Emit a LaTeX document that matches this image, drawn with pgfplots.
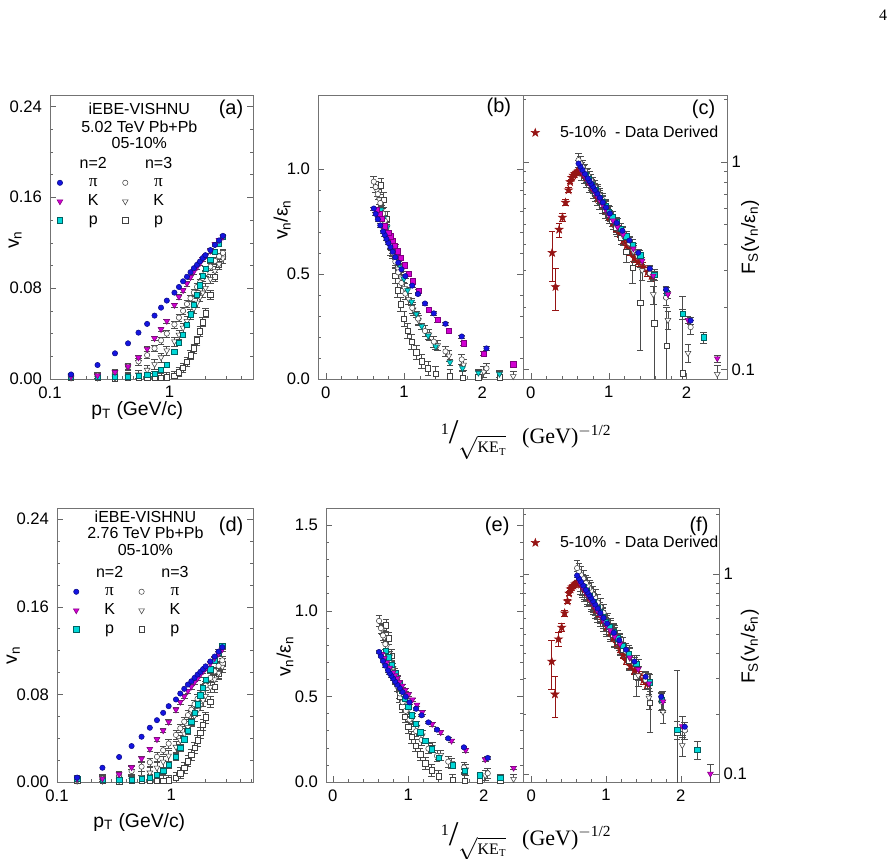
\documentclass[border=0pt]{standalone}
\usepackage{fontspec}
\setmainfont{Liberation Sans}
\newfontfamily\timesf{Liberation Serif}
\usepackage{pgfplots}
\usepackage{pgfplotstable}
\pgfplotsset{compat=1.18}

\definecolor{cpi}{RGB}{20,20,225}
\definecolor{cK}{RGB}{210,0,210}
\definecolor{cp}{RGB}{0,215,215}
\definecolor{cstar}{RGB}{150,20,20}

\pgfdeclareplotmark{fstar}{%
 \pgfpathmoveto{\pgfpoint{0pt}{\pgfplotmarksize}}%
 \pgfpathlineto{\pgfpoint{-0.235\pgfplotmarksize}{0.324\pgfplotmarksize}}%
 \pgfpathlineto{\pgfpoint{-0.951\pgfplotmarksize}{0.309\pgfplotmarksize}}%
 \pgfpathlineto{\pgfpoint{-0.380\pgfplotmarksize}{-0.124\pgfplotmarksize}}%
 \pgfpathlineto{\pgfpoint{-0.588\pgfplotmarksize}{-0.809\pgfplotmarksize}}%
 \pgfpathlineto{\pgfpoint{0pt}{-0.4\pgfplotmarksize}}%
 \pgfpathlineto{\pgfpoint{0.588\pgfplotmarksize}{-0.809\pgfplotmarksize}}%
 \pgfpathlineto{\pgfpoint{0.380\pgfplotmarksize}{-0.124\pgfplotmarksize}}%
 \pgfpathlineto{\pgfpoint{0.951\pgfplotmarksize}{0.309\pgfplotmarksize}}%
 \pgfpathlineto{\pgfpoint{0.235\pgfplotmarksize}{0.324\pgfplotmarksize}}%
 \pgfpathclose
 \pgfusepathqfillstroke
}

\tikzset{
 S2pi/.style={mark=*, mark size=2pt, mark options={draw=cpi!60!black, fill=cpi}},
 S2K/.style={mark=triangle*, mark size=2.5pt, mark options={rotate=180, draw=cK!60!black, fill=cK}},
 S2Ksq/.style={mark=square*, mark size=2pt, mark options={draw=cK!60!black, fill=cK}},
 S2p/.style={mark=square*, mark size=2pt, mark options={draw=cp!45!black, fill=cp}},
 S2ptri/.style={mark=triangle*, mark size=2.5pt, mark options={rotate=180, draw=cp!45!black, fill=cp}},
 S3pi/.style={mark=*, mark size=2pt, mark options={draw=black!75, fill=white}},
 S3K/.style={mark=triangle*, mark size=2.5pt, mark options={rotate=180, draw=black!75, fill=white}},
 S3p/.style={mark=square*, mark size=2pt, mark options={draw=black!75, fill=white}},
 Sstar/.style={mark=fstar, mark size=3.2pt, mark options={draw=cstar, fill=cstar}},
 lfont/.style={font=\fontsize{14.5}{17}\selectfont},
}

\pgfplotsset{
 legend image code/.code={\path[draw=none,fill=none] (-3pt,-3pt) rectangle (3pt,3pt);\draw[#1] plot coordinates {(0pt,0pt)};},
 base/.style={scale only axis, anchor=south west, axis line style={black!55},
  tick style={black!60}, major tick length=4.5pt, minor tick length=2.5pt,
  xtick pos=bottom, ytick pos=both,
  tick label style={font=\fontsize{12.5}{15}\selectfont},
  xticklabel style={yshift=-2pt},
  error bars/error bar style={black!70, line width=0.5pt},
  error bars/error mark options={rotate=90, black!70, mark size=2.5pt}},
 lefty/.style={yticklabel style={xshift=-2.5pt}},
 legA/.style={legend columns=2, legend cell align=left,
  legend style={draw=none, fill=none, inner sep=0pt, anchor=north west,
   font=\fontsize{12}{14}\selectfont,
   nodes={inner sep=1pt, text height=8.5pt, text depth=2.5pt}, row sep=1pt,
   /tikz/every even column/.append style={column sep=16pt}}},
 legC/.style={legend style={draw=none, fill=none, inner sep=0pt, anchor=west,
   font=\fontsize{12}{14}\selectfont, nodes={inner sep=1pt}}},
 scal/.style={xmin=-0.1, xmax=2.52, restrict x to domain=-0.1:2.52,
  xtick={0,1,2}, xticklabels={0,1,2}, minor x tick num=4},
}

% ---------- 5.02 TeV ----------
\pgfplotstableread{
pT v2pi v2K v2p v3pi v3K v3p
0.15 0.0040 0.0020 0.0025 0.0010 0.0010 0.0010
0.25 0.0123 0.0030 0.0020 0.0030 0.0010 0.0010
0.35 0.0226 0.0060 0.0020 0.0060 0.0010 0.0005
0.45 0.0314 0.0109 0.0020 0.0110 0.0015 0.0010
0.55 0.0408 0.0188 0.0030 0.0155 0.0040 0.0010
0.65 0.0485 0.0264 0.0037 0.0210 0.0080 0.0010
0.75 0.0558 0.0358 0.0045 0.0270 0.0130 0.0010
0.85 0.0628 0.0438 0.0079 0.0340 0.0190 0.0008
0.95 0.0690 0.0510 0.0123 0.0400 0.0250 0.0015
1.1 0.0760 0.0650 0.0240 0.0480 0.0330 0.0030
1.2 0.0810 0.0723 0.0320 0.0540 0.0390 0.0060
1.3 0.0860 0.0780 0.0390 0.0600 0.0450 0.0100
1.4 0.0900 0.0840 0.0480 0.0660 0.0510 0.0150
1.5 0.0940 0.0895 0.0570 0.0710 0.0570 0.0210
1.6 0.0975 0.0945 0.0655 0.0760 0.0620 0.0270
1.7 0.1005 0.0985 0.0740 0.0810 0.0670 0.0340
1.8 0.1035 0.1020 0.0825 0.0850 0.0720 0.0420
1.9 0.1065 0.1055 0.0910 0.0890 0.0760 0.0500
2.0 0.1090 0.1080 0.0970 0.0930 0.0800 0.0580
2.2 0.1135 0.1128 0.1050 0.0990 0.0880 0.0740
2.4 0.1180 0.1185 0.1120 0.1040 0.0950 0.0900
2.6 0.1220 0.1222 0.1190 0.1080 0.1010 0.1010
2.8 0.1260 0.1250 0.1250 0.1110 0.1060 0.1090
}\tAa

\pgfplotstableread{
pT xpi xK xp b2pi b2K b2p b3pi b3K b3p
0.15 3.91 6.70 9.20 0.026 0.013 0.016 0.008 0.008 0.008
0.25 2.61 4.09 5.53 0.079 0.019 0.013 0.025 0.008 0.008
0.35 2.053 2.996 3.98 0.1458 0.0387 0.013 0.0508 0.008 0.004
0.45 1.737 2.395 3.13 0.2026 0.0703 0.013 0.0932 0.0127 0.008
0.55 1.529 2.019 2.588 0.2632 0.1213 0.019 0.1314 0.0339 0.008
0.65 1.380 1.761 2.219 0.3129 0.1703 0.0239 0.1780 0.0678 0.0085
0.75 1.267 1.573 1.950 0.3600 0.2310 0.0290 0.2288 0.1102 0.0085
0.85 1.177 1.430 1.747 0.4052 0.2826 0.0510 0.2881 0.1610 0.0068
0.95 1.104 1.317 1.587 0.4452 0.3290 0.0794 0.3390 0.2119 0.0127
1.1 1.016 1.185 1.404 0.4903 0.4194 0.1548 0.4068 0.2797 0.0254
1.2 0.967 1.115 1.307 0.5226 0.4665 0.2065 0.4576 0.3305 0.0508
1.3 0.925 1.056 1.226 0.5548 0.5032 0.2516 0.5085 0.3814 0.0847
1.4 0.888 1.005 1.157 0.5806 0.5419 0.3097 0.5593 0.4322 0.1271
1.5 0.855 0.960 1.097 0.6065 0.5774 0.3677 0.6017 0.4831 0.1780
1.6 0.826 0.920 1.045 0.6290 0.6097 0.4226 0.6441 0.5254 0.2288
1.7 0.799 0.885 0.998 0.6484 0.6355 0.4774 0.6864 0.5678 0.2881
1.8 0.775 0.853 0.957 0.6677 0.6581 0.5323 0.7203 0.6102 0.3559
1.9 0.753 0.825 0.920 0.6871 0.6806 0.5871 0.7542 0.6441 0.4237
2.0 0.732 0.799 0.887 0.7032 0.6968 0.6258 0.7881 0.6780 0.4915
2.2 0.696 0.754 0.829 0.7323 0.7277 0.6774 0.8390 0.7458 0.6271
2.4 0.665 0.715 0.781 0.7613 0.7645 0.7226 0.8814 0.8051 0.7627
2.6 0.637 0.682 0.740 0.7871 0.7884 0.7677 0.9153 0.8559 0.8559
2.8 0.613 0.652 0.705 0.8129 0.8065 0.8065 0.9407 0.8983 0.9237
}\tBa

\pgfplotstableread{
pT xpi xK xp c2pi c2K c2p c3pi c3K c3p c3pP c3pM
0.15 3.91 6.70 9.20 nan nan nan nan nan nan 0 0
0.25 2.61 4.09 5.53 nan nan nan nan nan nan 0 0
0.35 2.053 2.996 3.98 0.172 nan nan 0.160 nan nan 0 0
0.45 1.737 2.395 3.13 0.243 0.113 nan 0.222 0.095 nan 0 0
0.55 1.529 2.019 2.588 0.306 0.173 nan 0.290 0.120 nan 0 0
0.65 1.380 1.761 2.219 0.365 0.230 0.143 0.350 0.173 nan 0 0
0.75 1.267 1.573 1.950 0.418 0.283 0.185 0.405 0.230 0.096 0.13 0.085
0.85 1.177 1.430 1.747 0.466 0.334 0.235 0.455 0.300 0.130 0.07 0.05
0.95 1.104 1.317 1.587 0.508 0.382 0.287 0.500 0.370 0.167 0.13 0.158
1.1 1.016 1.185 1.404 0.565 0.447 0.355 0.565 0.440 0.210 0.10 0.086
1.2 0.967 1.115 1.307 0.603 0.486 0.398 0.615 0.485 0.310 0.05 0.05
1.3 0.925 1.056 1.226 0.638 0.522 0.438 0.655 0.525 0.370 0.04 0.04
1.4 0.888 1.005 1.157 0.672 0.555 0.477 0.690 0.560 0.430 0.03 0.03
1.5 0.855 0.960 1.097 0.703 0.590 0.513 0.725 0.595 0.480 0.03 0.03
1.6 0.826 0.920 1.045 0.732 0.624 0.546 0.755 0.630 0.520 0.03 0.03
1.7 0.799 0.885 0.998 0.760 0.655 0.577 0.785 0.660 0.555 0.03 0.03
1.8 0.775 0.853 0.957 0.785 0.684 0.611 0.810 0.690 0.590 0.03 0.03
1.9 0.753 0.825 0.920 0.809 0.711 0.643 0.835 0.720 0.625 0.03 0.03
2.0 0.732 0.799 0.887 0.833 0.737 0.673 0.860 0.745 0.655 0.03 0.03
2.2 0.696 0.754 0.829 0.875 0.785 0.729 0.905 0.790 0.710 0.03 0.03
2.4 0.665 0.715 0.781 0.914 0.827 0.778 0.945 0.835 0.760 0.03 0.03
2.6 0.637 0.682 0.740 0.950 0.866 0.824 0.985 0.875 0.810 0.03 0.03
2.8 0.613 0.652 0.705 0.982 0.903 0.865 1.020 0.910 0.850 0.03 0.03
}\tCa

% ---------- 2.76 TeV ----------
\pgfplotstableread{
pT v2pi v2K v2p v3pi v3K v3p
0.15 0.0040 0.0030 0.0030 0.0020 0.0010 0.0010
0.25 0.0130 0.0030 0.0020 0.0030 0.0010 0.0010
0.35 0.0228 0.0070 0.0020 0.0060 0.0015 0.0005
0.45 0.0328 0.0133 0.0020 0.0100 0.0020 0.0010
0.55 0.0413 0.0213 0.0030 0.0140 0.0045 0.0010
0.65 0.0495 0.0301 0.0037 0.0180 0.0085 0.0010
0.75 0.0564 0.0389 0.0063 0.0230 0.0130 0.0010
0.85 0.0631 0.0470 0.0104 0.0290 0.0185 0.0010
0.95 0.0692 0.0548 0.0159 0.0350 0.0240 0.0015
1.1 0.0753 0.0660 0.0232 0.0430 0.0320 0.0040
1.2 0.0807 0.0730 0.0310 0.0490 0.0380 0.0080
1.3 0.0850 0.0780 0.0390 0.0550 0.0440 0.0130
1.4 0.0889 0.0830 0.0470 0.0610 0.0500 0.0190
1.5 0.0919 0.0870 0.0550 0.0660 0.0555 0.0250
1.6 0.0950 0.0910 0.0630 0.0710 0.0605 0.0310
1.7 0.0980 0.0945 0.0710 0.0760 0.0655 0.0380
1.8 0.1005 0.0980 0.0790 0.0800 0.0700 0.0450
1.9 0.1030 0.1010 0.0860 0.0840 0.0745 0.0520
2.0 0.1055 0.1035 0.0930 0.0880 0.0785 0.0590
2.2 0.1100 0.1080 0.1030 0.0950 0.0865 0.0730
2.4 0.1145 0.1130 0.1110 0.1010 0.0935 0.0870
2.6 0.1190 0.1170 0.1180 0.1060 0.0995 0.0990
2.8 0.1230 0.1210 0.1240 0.1110 0.1050 0.1080
}\tAb

\pgfplotstableread{
pT xpi xK xp e2pi e2K e2p e3pi e3K e3p
0.15 3.91 6.70 9.20 0.025 0.019 0.019 0.017 0.008 0.008
0.25 2.61 4.09 5.53 0.080 0.019 0.012 0.025 0.008 0.008
0.35 2.053 2.996 3.98 0.1407 0.0432 0.012 0.0508 0.0127 0.004
0.45 1.737 2.395 3.13 0.2025 0.0821 0.012 0.0847 0.0169 0.008
0.55 1.529 2.019 2.588 0.2549 0.1315 0.019 0.1186 0.0381 0.008
0.65 1.380 1.761 2.219 0.3056 0.1858 0.0228 0.1525 0.0720 0.0085
0.75 1.267 1.573 1.950 0.3481 0.2401 0.0389 0.1949 0.1102 0.0085
0.85 1.177 1.430 1.747 0.3895 0.2901 0.0642 0.2458 0.1568 0.0085
0.95 1.104 1.317 1.587 0.4272 0.3383 0.0981 0.2966 0.2034 0.0127
1.1 1.016 1.185 1.404 0.4648 0.4074 0.1432 0.3644 0.2712 0.0339
1.2 0.967 1.115 1.307 0.4981 0.4506 0.1914 0.4153 0.3220 0.0678
1.3 0.925 1.056 1.226 0.5247 0.4815 0.2407 0.4661 0.3729 0.1102
1.4 0.888 1.005 1.157 0.5488 0.5123 0.2901 0.5169 0.4237 0.1610
1.5 0.855 0.960 1.097 0.5673 0.5370 0.3395 0.5593 0.4703 0.2119
1.6 0.826 0.920 1.045 0.5864 0.5617 0.3889 0.6017 0.5127 0.2627
1.7 0.799 0.885 0.998 0.6049 0.5833 0.4383 0.6441 0.5551 0.3220
1.8 0.775 0.853 0.957 0.6204 0.6049 0.4877 0.6780 0.5932 0.3814
1.9 0.753 0.825 0.920 0.6358 0.6235 0.5309 0.7119 0.6314 0.4407
2.0 0.732 0.799 0.887 0.6512 0.6389 0.5741 0.7458 0.6653 0.5000
2.2 0.696 0.754 0.829 0.6790 0.6667 0.6358 0.8051 0.7331 0.6186
2.4 0.665 0.715 0.781 0.7068 0.6975 0.6852 0.8559 0.7924 0.7373
2.6 0.637 0.682 0.740 0.7346 0.7222 0.7284 0.8983 0.8432 0.8390
2.8 0.613 0.652 0.705 0.7593 0.7469 0.7654 0.9407 0.8898 0.9153
}\tBb

\pgfplotstableread{
pT xpi xK xp f2pi f2K f2p f3pi f3K f3p f3pP f3pM
0.15 3.91 6.70 9.20 nan nan nan nan nan nan 0 0
0.25 2.61 4.09 5.53 nan nan nan nan nan nan 0 0
0.35 2.053 2.996 3.98 0.172 nan nan 0.165 nan nan 0 0
0.45 1.737 2.395 3.13 0.243 0.100 nan 0.230 nan nan 0 0
0.55 1.529 2.019 2.588 0.306 0.173 nan 0.295 0.139 nan 0 0
0.65 1.380 1.761 2.219 0.365 0.230 0.132 0.355 0.204 nan 0 0
0.75 1.267 1.573 1.950 0.418 0.283 0.166 0.410 0.240 0.160 0.170 0.140
0.85 1.177 1.430 1.747 0.466 0.334 0.235 0.460 0.310 nan 0 0
0.95 1.104 1.317 1.587 0.508 0.382 0.287 0.510 0.380 0.226 0.065 0.065
1.1 1.016 1.185 1.404 0.565 0.447 0.355 0.580 0.450 0.305 0.060 0.060
1.2 0.967 1.115 1.307 0.603 0.486 0.398 0.640 0.495 0.370 0.040 0.040
1.3 0.925 1.056 1.226 0.638 0.522 0.438 0.685 0.535 0.420 0.035 0.035
1.4 0.888 1.005 1.157 0.672 0.555 0.477 0.720 0.570 0.460 0.035 0.035
1.5 0.855 0.960 1.097 0.703 0.590 0.513 0.760 0.610 0.500 0.035 0.035
1.6 0.826 0.920 1.045 0.732 0.624 0.546 0.790 0.645 0.535 0.035 0.035
1.7 0.799 0.885 0.998 0.760 0.655 0.577 0.825 0.675 0.570 0.035 0.035
1.8 0.775 0.853 0.957 0.785 0.684 0.611 0.850 0.705 0.605 0.035 0.035
1.9 0.753 0.825 0.920 0.809 0.711 0.643 0.875 0.735 0.640 0.035 0.035
2.0 0.732 0.799 0.887 0.833 0.737 0.673 0.900 0.760 0.670 0.035 0.035
2.2 0.696 0.754 0.829 0.875 0.785 0.729 0.950 0.805 0.725 0.035 0.035
2.4 0.665 0.715 0.781 0.914 0.827 0.778 0.990 0.850 0.780 0.035 0.035
2.6 0.637 0.682 0.740 0.950 0.866 0.824 1.030 0.890 0.830 0.035 0.035
2.8 0.613 0.652 0.705 0.982 0.903 0.865 1.070 0.930 0.875 0.035 0.035
}\tCb

% ---------- data-derived stars ----------
\pgfplotstableread{
x F e
0.274 0.365 0.100
0.317 0.250 0.057
0.364 0.472 0.037
0.407 0.540 0.025
0.446 0.637 0.020
0.485 0.731 0.020
0.505 0.800 0.015
0.525 0.840 0.015
0.545 0.860 0.015
0.565 0.875 0.015
0.585 0.890 0.015
0.605 0.900 0.015
0.625 0.905 0.015
0.645 0.900 0.015
0.665 0.885 0.015
0.690 0.865 0.015
0.715 0.840 0.015
0.745 0.810 0.015
0.780 0.765 0.015
0.820 0.720 0.015
0.865 0.665 0.015
0.910 0.630 0.015
0.960 0.585 0.015
1.015 0.543 0.015
1.060 0.510 0.015
1.100 0.478 0.015
1.145 0.450 0.015
1.190 0.420 0.015
1.230 0.395 0.015
1.270 0.369 0.015
1.330 0.345 0.015
1.380 0.330 0.015
1.440 0.312 0.015
1.500 0.295 0.015
1.550 0.282 0.015
}\tStar

\newcommand{\kelabel}{\raisebox{7pt}{\fontsize{12}{14}\selectfont 1}{\fontsize{26}{26}\selectfont /}\raisebox{-7pt}{$\sqrt{\hbox{\timesf\fontsize{12}{14}\selectfont KE\textsubscript{T}}}$}\hspace{12pt}(GeV)\textsuperscript{$-$1/2}}
\newcommand{\lt}[1]{\hspace*{17pt}\makebox[8pt]{#1}}
\newcommand{\pig}{{\timesf\fontsize{13}{14}\selectfont π}}

\begin{document}
\begin{tikzpicture}
\path[use as bounding box] (0,0) rectangle (671.25pt,644.25pt);

% ================= (a) =================
\begin{axis}[base, lefty, at={(37.5pt,360pt)}, width=152.25pt, height=213pt,
 xmode=log, xmin=0.1, xmax=5, ymin=0, ymax=0.25,
 xtick={0.1,1}, xticklabels={0.1,1}, minor xtick={0.2,0.3,0.4,0.5,0.6,0.7,0.8,0.9,2,3,4},
 ytick={0,0.08,0.16,0.24}, yticklabels={0.00,0.08,0.16,0.24},
 minor ytick={0.02,0.04,0.06,0.1,0.12,0.14,0.18,0.2,0.22},
 xlabel={p\textsubscript{T} (GeV/c)}, ylabel={v\textsubscript{n}},
 every axis x label/.style={at={(rel axis cs:0.43,-0.112)},anchor=center,lfont},
 every axis y label/.style={at={(rel axis cs:-0.172,0.49)},rotate=90,anchor=center,lfont},
 legA, legend style={at={(0.028,0.788)}}]
\addplot[only marks,S3p,forget plot,error bars/.cd,y dir=both,y fixed=0.004] table[x=pT,y=v3p]{\tAa};
\addplot[only marks,S3K,forget plot,error bars/.cd,y dir=both,y fixed=0.004] table[x=pT,y=v3K]{\tAa};
\addplot[only marks,S3pi,forget plot,error bars/.cd,y dir=both,y fixed=0.003] table[x=pT,y=v3pi]{\tAa};
\addplot[only marks,S2p,forget plot,error bars/.cd,y dir=both,y fixed=0.002] table[x=pT,y=v2p]{\tAa};
\addplot[only marks,S2K,forget plot,error bars/.cd,y dir=both,y fixed=0.002] table[x=pT,y=v2K]{\tAa};
\addplot[only marks,S2pi,forget plot] table[x=pT,y=v2pi]{\tAa};
\node[font=\fontsize{12}{14}\selectfont,anchor=base] at (rel axis cs:0.44,0.930) {iEBE-VISHNU};
\node[font=\fontsize{12}{14}\selectfont,anchor=base] at (rel axis cs:0.44,0.867) {5.02 TeV Pb+Pb};
\node[font=\fontsize{12}{14}\selectfont,anchor=base] at (rel axis cs:0.44,0.812) {05-10\%};
\node[font=\fontsize{15}{17}\selectfont,anchor=base east] at (rel axis cs:0.975,0.93) {(a)};
\addlegendimage{draw=none}\addlegendentry{\lt{n=2}}
\addlegendimage{draw=none}\addlegendentry{\lt{n=3}}
\addlegendimage{S2pi}\addlegendentry{\lt{\pig}}
\addlegendimage{S3pi}\addlegendentry{\lt{\pig}}
\addlegendimage{S2K}\addlegendentry{\lt{K}}
\addlegendimage{S3K}\addlegendentry{\lt{K}}
\addlegendimage{S2p}\addlegendentry{\lt{p}}
\addlegendimage{S3p}\addlegendentry{\lt{p}}
\end{axis}

% ================= (b) =================
\begin{axis}[base, lefty, scal, at={(238.5pt,360pt)}, width=153.75pt, height=213pt,
 ymin=0, ymax=1.354, ytick={0,0.5,1}, yticklabels={0.0,0.5,1.0}, minor y tick num=4,
 ylabel={v\textsubscript{n}/ε\textsubscript{n}},
 every axis y label/.style={at={(rel axis cs:-0.175,0.56)},rotate=90,anchor=center,lfont}]
\addplot[only marks,S3p,error bars/.cd,y dir=both,y fixed=0.035] table[x=xp,y=b3p]{\tBa};
\addplot[only marks,S3K,error bars/.cd,y dir=both,y fixed=0.025] table[x=xK,y=b3K]{\tBa};
\addplot[only marks,S3pi,error bars/.cd,y dir=both,y fixed=0.025] table[x=xpi,y=b3pi]{\tBa};
\addplot[only marks,S2ptri,error bars/.cd,y dir=both,y fixed=0.015] table[x=xp,y=b2p]{\tBa};
\addplot[only marks,S2Ksq,error bars/.cd,y dir=both,y fixed=0.01] table[x=xK,y=b2K]{\tBa};
\addplot[only marks,S2pi,error bars/.cd,y dir=both,y fixed=0.008] table[x=xpi,y=b2pi]{\tBa};
\node[font=\fontsize{15}{17}\selectfont,anchor=base east] at (rel axis cs:0.965,0.938) {(b)};
\end{axis}

% ================= (c) =================
\begin{axis}[base, scal, at={(392.25pt,360pt)}, width=153pt, height=213pt,
 ymode=log, ymin=0.09, ymax=2.1, ytick={0.1,1}, yticklabels={0.1,1},
 minor ytick={0.2,0.3,0.4,0.5,0.6,0.7,0.8,0.9,2},
 yticklabel pos=right,
 ylabel={F\textsubscript{S}(v\textsubscript{n}/ε\textsubscript{n})},
 every axis y label/.style={at={(rel axis cs:1.113,0.50)},rotate=90,anchor=center,lfont},
 legC, legend style={at={(0.039,0.867)}}]
\addplot[only marks,Sstar,forget plot,error bars/.cd,y dir=both,y explicit,error bar style={cstar},error mark options={rotate=90,cstar,mark size=2.5pt}] table[x=x,y=F,y error=e]{\tStar};
\addplot[only marks,S3p,forget plot,error bars/.cd,y dir=both,y explicit] table[x=xp,y=c3p,y error plus=c3pP,y error minus=c3pM]{\tCa};
\addplot[only marks,S3K,forget plot,error bars/.cd,y dir=both,y fixed relative=0.1] table[x=xK,y=c3K]{\tCa};
\addplot[only marks,S3pi,forget plot,error bars/.cd,y dir=both,y fixed relative=0.08] table[x=xpi,y=c3pi]{\tCa};
\addplot[only marks,S2p,forget plot,error bars/.cd,y dir=both,y fixed relative=0.06] table[x=xp,y=c2p]{\tCa};
\addplot[only marks,S2K,forget plot,error bars/.cd,y dir=both,y fixed relative=0.04] table[x=xK,y=c2K]{\tCa};
\addplot[only marks,S2pi,forget plot,error bars/.cd,y dir=both,y fixed relative=0.04] table[x=xpi,y=c2pi]{\tCa};
\node[font=\fontsize{15}{17}\selectfont,anchor=base east] at (rel axis cs:0.965,0.93) {(c)};
\addlegendimage{Sstar}\addlegendentry{\hspace*{14.5pt}5-10\%\ \ - Data Derived}
\end{axis}

% ================= (d) =================
\begin{axis}[base, lefty, at={(42.75pt,57.75pt)}, width=147pt, height=205.5pt,
 xmode=log, xmin=0.1, xmax=5.2, ymin=0, ymax=0.25,
 xtick={0.1,1}, xticklabels={0.1,1}, minor xtick={0.2,0.3,0.4,0.5,0.6,0.7,0.8,0.9,2,3,4,5},
 ytick={0,0.08,0.16,0.24}, yticklabels={0.00,0.08,0.16,0.24},
 minor ytick={0.02,0.04,0.06,0.1,0.12,0.14,0.18,0.2,0.22},
 xlabel={p\textsubscript{T} (GeV/c)}, ylabel={v\textsubscript{n}},
 every axis x label/.style={at={(rel axis cs:0.42,-0.146)},anchor=center,lfont},
 every axis y label/.style={at={(rel axis cs:-0.223,0.463)},rotate=90,anchor=center,lfont},
 legA, legend style={at={(0.0765,0.795)}}]
\addplot[only marks,S3p,forget plot,error bars/.cd,y dir=both,y fixed=0.005] table[x=pT,y=v3p]{\tAb};
\addplot[only marks,S3K,forget plot,error bars/.cd,y dir=both,y fixed=0.005] table[x=pT,y=v3K]{\tAb};
\addplot[only marks,S3pi,forget plot,error bars/.cd,y dir=both,y fixed=0.004] table[x=pT,y=v3pi]{\tAb};
\addplot[only marks,S2p,forget plot,error bars/.cd,y dir=both,y fixed=0.003] table[x=pT,y=v2p]{\tAb};
\addplot[only marks,S2K,forget plot,error bars/.cd,y dir=both,y fixed=0.002] table[x=pT,y=v2K]{\tAb};
\addplot[only marks,S2pi,forget plot] table[x=pT,y=v2pi]{\tAb};
\node[font=\fontsize{12}{14}\selectfont,anchor=base] at (rel axis cs:0.451,0.948) {iEBE-VISHNU};
\node[font=\fontsize{12}{14}\selectfont,anchor=base] at (rel axis cs:0.451,0.889) {2.76 TeV Pb+Pb};
\node[font=\fontsize{12}{14}\selectfont,anchor=base] at (rel axis cs:0.451,0.828) {05-10\%};
\node[font=\fontsize{15}{17}\selectfont,anchor=base east] at (rel axis cs:0.975,0.915) {(d)};
\addlegendimage{draw=none}\addlegendentry{\lt{n=2}}
\addlegendimage{draw=none}\addlegendentry{\lt{n=3}}
\addlegendimage{S2pi}\addlegendentry{\lt{\pig}}
\addlegendimage{S3pi}\addlegendentry{\lt{\pig}}
\addlegendimage{S2K}\addlegendentry{\lt{K}}
\addlegendimage{S3K}\addlegendentry{\lt{K}}
\addlegendimage{S2p}\addlegendentry{\lt{p}}
\addlegendimage{S3p}\addlegendentry{\lt{p}}
\end{axis}

% ================= (e) =================
\begin{axis}[base, lefty, scal, xmin=-0.09, at={(244.5pt,57.75pt)}, width=147.75pt, height=205.5pt,
 ymin=0, ymax=1.6, ytick={0,0.5,1,1.5}, yticklabels={0.0,0.5,1.0,1.5}, minor y tick num=4,
 ylabel={v\textsubscript{n}/ε\textsubscript{n}},
 every axis y label/.style={at={(rel axis cs:-0.208,0.457)},rotate=90,anchor=center,lfont}]
\addplot[only marks,S3p,error bars/.cd,y dir=both,y fixed=0.035] table[x=xp,y=e3p]{\tBb};
\addplot[only marks,S3K,error bars/.cd,y dir=both,y fixed=0.03] table[x=xK,y=e3K]{\tBb};
\addplot[only marks,S3pi,error bars/.cd,y dir=both,y fixed=0.03] table[x=xpi,y=e3pi]{\tBb};
\addplot[only marks,S2p,error bars/.cd,y dir=both,y fixed=0.012] table[x=xp,y=e2p]{\tBb};
\addplot[only marks,S2K,error bars/.cd,y dir=both,y fixed=0.01] table[x=xK,y=e2K]{\tBb};
\addplot[only marks,S2pi,error bars/.cd,y dir=both,y fixed=0.008] table[x=xpi,y=e2pi]{\tBb};
\node[font=\fontsize{15}{17}\selectfont,anchor=base east] at (rel axis cs:0.955,0.915) {(e)};
\end{axis}

% ================= (f) =================
\begin{axis}[base, scal, xmin=-0.11, xmax=2.51, at={(392.25pt,57.75pt)}, width=147pt, height=205.5pt,
 ymode=log, ymin=0.091, ymax=2.14, ytick={0.1,1}, yticklabels={0.1,1},
 minor ytick={0.2,0.3,0.4,0.5,0.6,0.7,0.8,0.9,2},
 yticklabel pos=right,
 ylabel={F\textsubscript{S}(v\textsubscript{n}/ε\textsubscript{n})},
 every axis y label/.style={at={(rel axis cs:1.158,0.494)},rotate=90,anchor=center,lfont},
 legC, legend style={at={(0.041,0.873)}}]
\addplot[only marks,Sstar,forget plot,error bars/.cd,y dir=both,y explicit,error bar style={cstar},error mark options={rotate=90,cstar,mark size=2.5pt}] table[x=x,y=F,y error=e]{\tStar};
\addplot[only marks,S3p,forget plot,error bars/.cd,y dir=both,y explicit] table[x=xp,y=f3p,y error plus=f3pP,y error minus=f3pM]{\tCb};
\addplot[only marks,S3K,forget plot,error bars/.cd,y dir=both,y fixed relative=0.12] table[x=xK,y=f3K]{\tCb};
\addplot[only marks,S3pi,forget plot,error bars/.cd,y dir=both,y fixed relative=0.1] table[x=xpi,y=f3pi]{\tCb};
\addplot[only marks,S2p,forget plot,error bars/.cd,y dir=both,y fixed relative=0.1] table[x=xp,y=f2p]{\tCb};
\addplot[only marks,S2K,forget plot,error bars/.cd,y dir=both,y fixed relative=0.12] table[x=xK,y=f2K]{\tCb};
\addplot[only marks,S2pi,forget plot,error bars/.cd,y dir=both,y fixed relative=0.05] table[x=xpi,y=f2pi]{\tCb};
\node[font=\fontsize{15}{17}\selectfont,anchor=base east] at (rel axis cs:0.97,0.915) {(f)};
\addlegendimage{Sstar}\addlegendentry{\hspace*{14.5pt}5-10\%\ \ - Data Derived}
\end{axis}

% common labels
\node[font=\timesf\fontsize{16.5}{18}\selectfont] at (394.5pt,314.25pt) {\kelabel};
\node[font=\timesf\fontsize{16.5}{18}\selectfont] at (394.5pt,13pt) {\kelabel};
\node[font=\timesf\fontsize{12}{14}\selectfont] at (662.25pt,633pt) {4};
\end{tikzpicture}
\end{document}
